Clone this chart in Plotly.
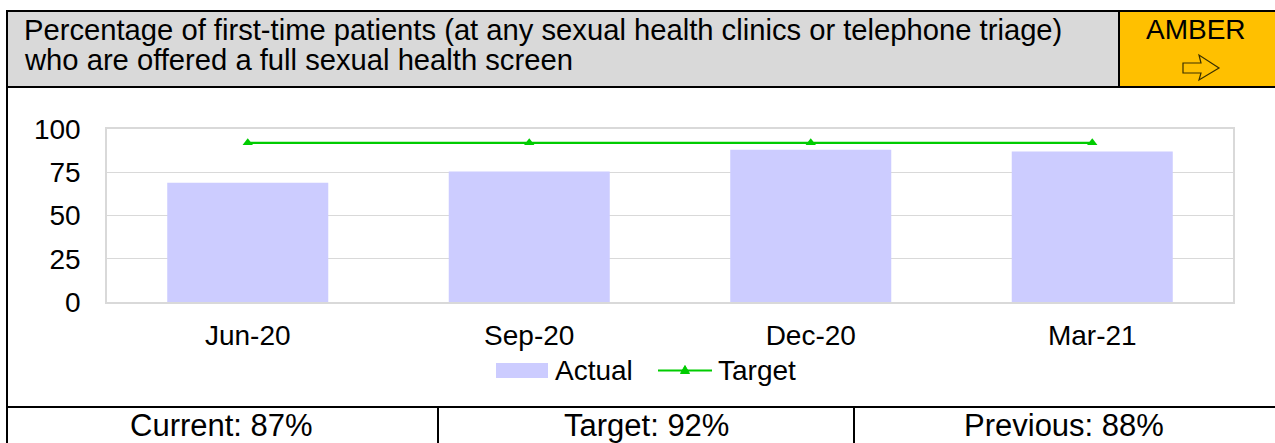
import plotly.graph_objects as go

# Quarterly results for the indicator
periods = ["Jun-20", "Sep-20", "Dec-20", "Mar-21"]
actual = [69, 75.5, 88, 87]
target = [92, 92, 92, 92]
y_ticks = [0, 25, 50, 75, 100]

title_lines = [
    "Percentage of first-time patients (at any sexual health clinics or telephone triage)",
    "who are offered a full sexual health screen",
]
rag_status = "AMBER"
summary_cells = ["Current: 87%", "Target: 92%", "Previous: 88%"]
legend_names = ["Actual", "Target"]

W, H = 1275, 443
FONT = "Liberation Sans, Arial, sans-serif"
BAR_COLOR = "#ccccff"
LINE_COLOR = "#00cc00"
GRID_COLOR = "#d9d9d9"


def fx(px):
    return px / W


def fy(py):
    return 1 - py / H


fig = go.Figure()
fig.add_trace(go.Bar(
    x=periods, y=actual, name=legend_names[0],
    marker=dict(color=BAR_COLOR, line=dict(width=0)),
    hoverinfo="x+y",
))
fig.add_trace(go.Scatter(
    x=periods, y=target, name=legend_names[1], mode="lines+markers",
    line=dict(color=LINE_COLOR, width=2.2),
    marker=dict(symbol="triangle-up", size=9, color=LINE_COLOR),
))

shapes = []
# header backgrounds
shapes.append(dict(type="rect", xref="paper", yref="paper", layer="below",
                   x0=fx(7), x1=fx(1290), y0=fy(87), y1=fy(11),
                   fillcolor="#d9d9d9", line=dict(width=0)))
shapes.append(dict(type="rect", xref="paper", yref="paper", layer="below",
                   x0=fx(1119), x1=fx(1290), y0=fy(87), y1=fy(11),
                   fillcolor="#ffc000", line=dict(width=0)))


def hline(y, x0, x1):
    shapes.append(dict(type="line", xref="paper", yref="paper",
                       x0=fx(x0), x1=fx(x1), y0=fy(y), y1=fy(y),
                       line=dict(color="black", width=2)))


def vline(x, y0, y1):
    shapes.append(dict(type="line", xref="paper", yref="paper",
                       x0=fx(x), x1=fx(x), y0=fy(y0), y1=fy(y1),
                       line=dict(color="black", width=2)))


hline(11, 6, 1290)
hline(87, 6, 1290)
hline(407, 6, 1290)
vline(7, 10, 460)
vline(1119, 11, 87)
vline(438, 407, 460)
vline(854, 407, 460)

# status arrow (outlined, pointing right)
ax, ay = 1183, 68
pts = [(ax, ay - 5), (ax + 18, ay - 5), (ax + 16, ay - 13), (ax + 36, ay),
       (ax + 16, ay + 12), (ax + 18, ay + 5), (ax, ay + 5)]
path = "M " + " L ".join(f"{fx(px):.5f},{fy(py):.5f}" for px, py in pts) + " Z"
shapes.append(dict(type="path", xref="paper", yref="paper", path=path,
                   fillcolor="#ffc000", line=dict(color="#3a3000", width=1.2)))

# legend swatches
shapes.append(dict(type="rect", xref="paper", yref="paper",
                   x0=fx(496), x1=fx(548), y0=fy(378), y1=fy(363),
                   fillcolor=BAR_COLOR, line=dict(width=0)))
shapes.append(dict(type="line", xref="paper", yref="paper",
                   x0=fx(658), x1=fx(712), y0=fy(370.5), y1=fy(370.5),
                   line=dict(color=LINE_COLOR, width=2.2)))
tx, ty = 685, 370.5
tri = [(tx, ty - 5), (tx + 4.5, ty + 3), (tx - 4.5, ty + 3)]
tri_path = "M " + " L ".join(f"{fx(px):.5f},{fy(py):.5f}" for px, py in tri) + " Z"
shapes.append(dict(type="path", xref="paper", yref="paper", path=tri_path,
                   fillcolor=LINE_COLOR, line=dict(color=LINE_COLOR, width=1)))

annotations = [
    dict(text=title_lines[0], x=fx(22), y=fy(30), xanchor="left", yanchor="middle",
         font=dict(size=29.2)),
    dict(text=title_lines[1], x=fx(22), y=fy(60), xanchor="left", yanchor="middle",
         font=dict(size=29.2)),
    dict(text=rag_status, x=fx(1196), y=fy(29), xanchor="center", yanchor="middle",
         font=dict(size=28)),
    dict(text=legend_names[0], x=fx(553), y=fy(370), xanchor="left", yanchor="middle",
         font=dict(size=28)),
    dict(text=legend_names[1], x=fx(716), y=fy(370), xanchor="left", yanchor="middle",
         font=dict(size=28)),
]
for text, cx in zip(summary_cells, [222, 646, 1064]):
    annotations.append(dict(text=text, x=fx(cx), y=fy(425), xanchor="center",
                            yanchor="middle", font=dict(size=31)))
for a in annotations:
    a.update(xref="paper", yref="paper", showarrow=False)
    a["font"].update(family=FONT, color="black")

fig.update_layout(
    width=W, height=H, autosize=False,
    margin=dict(l=0, r=0, t=0, b=0, pad=0, autoexpand=False),
    paper_bgcolor="white", plot_bgcolor="white",
    showlegend=False,
    bargap=0.428,
    font=dict(family=FONT, size=28, color="black"),
    shapes=shapes,
    annotations=annotations,
    xaxis=dict(
        domain=[fx(107), fx(1233)],
        type="category", showgrid=False, ticks="",
        showline=True, linecolor=GRID_COLOR, linewidth=1.5, mirror=True,
        tickfont=dict(size=28), ticklabelstandoff=8, fixedrange=True,
        automargin=False,
    ),
    yaxis=dict(
        domain=[fy(302), fy(129)],
        range=[0, 100], tickvals=y_ticks, ticks="",
        showgrid=True, gridcolor=GRID_COLOR, gridwidth=1.3,
        showline=True, linecolor=GRID_COLOR, linewidth=1.5, mirror=True,
        zeroline=False,
        tickfont=dict(size=28), ticklabelstandoff=19, fixedrange=True,
        automargin=False,
    ),
)

fig.write_html("out.html")
